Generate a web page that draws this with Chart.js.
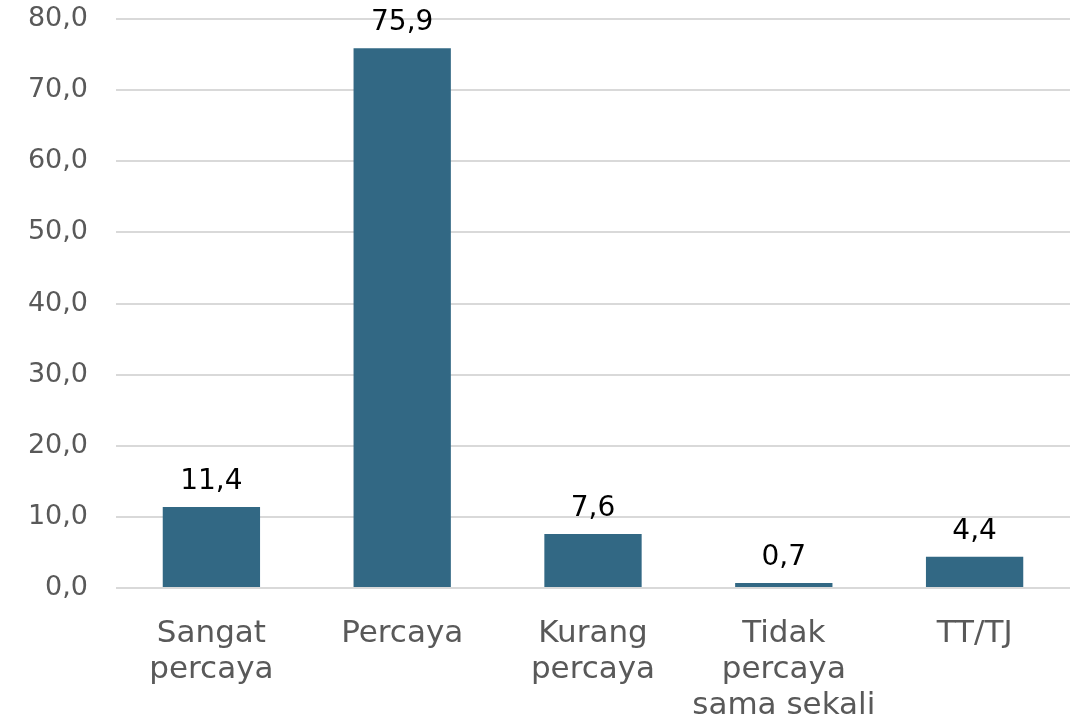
<!DOCTYPE html>
<html>
<head>
<meta charset="utf-8">
<script src="https://cdn.jsdelivr.net/npm/chart.js@4.4.0/dist/chart.umd.min.js"></script>
<style>
  html, body { margin: 0; padding: 0; background: #fff; }
  #wrap { width: 1074px; height: 722px; }
</style>
</head>
<body>
<div id="wrap"><canvas id="barChart" width="1074" height="722"></canvas></div>
<script>
const categories = [['Sangat', 'percaya'], 'Percaya', ['Kurang', 'percaya'], ['Tidak', 'percaya', 'sama sekali'], 'TT/TJ'];
const values = [11.4, 75.9, 7.6, 0.7, 4.4];
const yTicks = [0, 10, 20, 30, 40, 50, 60, 70, 80];

const fmt = v => v.toFixed(1).replace('.', ',');
const fontFamily = '"DejaVu Sans", sans-serif';

// draws the value above each bar
const valueLabels = {
    id: 'valueLabels',
    afterDatasetsDraw(chart) {
        const ctx = chart.ctx;
        const meta = chart.getDatasetMeta(0);
        ctx.save();
        ctx.font = '28px ' + fontFamily;
        ctx.fillStyle = '#000';
        ctx.textAlign = 'center';
        ctx.textBaseline = 'alphabetic';
        meta.data.forEach((bar, i) => {
            ctx.fillText(fmt(values[i]), bar.x, bar.y - 18);
        });
        ctx.restore();
    }
};

const barChart = document.getElementById('barChart');

new Chart(barChart, {
    type: 'bar',
    data: {
        labels: categories,
        datasets: [{
            data: values,
            backgroundColor: '#326884',
            borderWidth: 0,
            barPercentage: 0.51,
            categoryPercentage: 1.0
        }]
    },
    options: {
        responsive: false,
        animation: false,
        layout: { padding: { top: 0, right: 4, left: 0, bottom: 0 } },
        plugins: {
            legend: { display: false },
            tooltip: { enabled: false }
        },
        scales: {
            x: {
                grid: { display: false, drawTicks: false },
                border: { display: false },
                ticks: {
                    color: '#595959',
                    font: { family: fontFamily, size: 31, lineHeight: 1.16 },
                    padding: 28,
                    maxRotation: 0,
                    autoSkip: false
                },
                afterFit(scale) { scale.height = 722 - 588; }
            },
            y: {
                min: 0,
                max: 80,
                afterBuildTicks(scale) { scale.ticks = yTicks.map(v => ({ value: v })); },
                grid: { color: '#d9d9d9', lineWidth: 2, drawTicks: false },
                border: { display: false },
                ticks: {
                    color: '#595959',
                    font: { family: fontFamily, size: 27 },
                    padding: 28,
                    callback: v => fmt(v)
                },
                afterFit(scale) {
                    scale.width = 116;
                    scale.paddingTop = 19;
                    scale.paddingBottom = 0;
                }
            }
        }
    },
    plugins: [valueLabels]
});
</script>
</body>
</html>
